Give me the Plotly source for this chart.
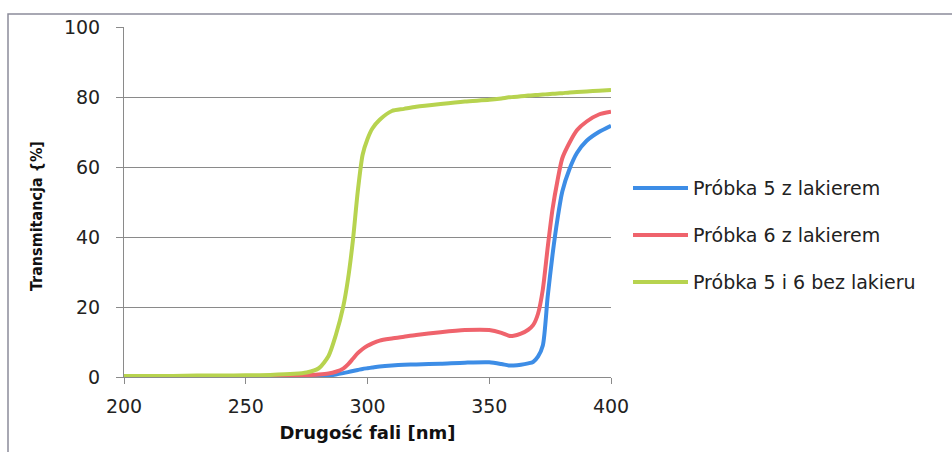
import plotly.graph_objects as go

# Wavelength grid [nm]
wavelength = [200, 210, 220, 230, 240, 250, 260, 270, 275, 280, 284, 287, 290, 292,
              294, 296, 298, 300, 302, 305, 310, 315, 320, 330, 340, 350, 355, 358,
              360, 363, 366, 368, 370, 372, 374, 376, 378, 380, 383, 386, 390, 395, 400]

# Transmittance [%]
probka5_lakier = [0.0, 0.0, 0.0, 0.0, 0.0, 0.0, 0.0, 0.1, 0.1, 0.2, 0.4, 0.7, 1.1, 1.4,
                  1.7, 2.0, 2.3, 2.5, 2.7, 3.0, 3.3, 3.5, 3.6, 3.8, 4.1, 4.2, 3.7, 3.3,
                  3.3, 3.5, 3.9, 4.3, 5.8, 9.0, 23.0, 35.0, 45.0, 53.0, 59.5, 64.0, 67.5, 70.0, 71.8]

probka6_lakier = [0.1, 0.1, 0.1, 0.1, 0.1, 0.2, 0.2, 0.3, 0.5, 0.7, 1.0, 1.5, 2.4, 3.6,
                  5.2, 6.8, 8.0, 8.9, 9.6, 10.4, 11.0, 11.5, 12.0, 12.8, 13.4, 13.4, 12.6, 11.8,
                  11.8, 12.4, 13.5, 14.8, 18.0, 25.0, 37.0, 48.0, 56.0, 62.5, 67.0, 70.5, 73.0, 75.0, 75.8]

probka56_bez = [0.3, 0.3, 0.3, 0.4, 0.4, 0.5, 0.6, 0.9, 1.3, 2.5, 6.0, 12.0, 20.0, 28.0,
                39.0, 53.0, 63.5, 68.0, 71.0, 73.5, 76.0, 76.6, 77.2, 78.0, 78.7, 79.2, 79.6, 79.9,
                80.0, 80.2, 80.4, 80.5, 80.6, 80.7, 80.8, 80.9, 81.0, 81.1, 81.3, 81.4, 81.6, 81.8, 82.0]

series_names = ["Próbka 5 z lakierem", "Próbka 6 z lakierem", "Próbka 5 i 6 bez lakieru"]
series_values = [probka5_lakier, probka6_lakier, probka56_bez]
series_colors = ["#3d8de6", "#ef636c", "#b7d34f"]

x_ticks = [200, 250, 300, 350, 400]
y_ticks = [0, 20, 40, 60, 80, 100]

W, H = 952, 452
L, R, T, B = 124, 341, 27, 75
plot_w, plot_h = W - L - R, H - T - B


def px_to_paper_x(px):
    return (px - L) / plot_w


def px_to_paper_y(py):
    return (H - B - py) / plot_h


fig = go.Figure()
for name, vals, col in zip(series_names, series_values, series_colors):
    fig.add_trace(go.Scatter(
        x=wavelength, y=vals, name=name, mode="lines",
        line=dict(color=col, width=4, shape="spline", smoothing=0.7),
        showlegend=False,
    ))

grid_col = "#8a8a8a"
fig.update_xaxes(
    range=[200, 400], tickvals=x_ticks, ticks="outside", ticklen=6, tickcolor=grid_col,
    showline=True, linecolor=grid_col, linewidth=1, showgrid=False, zeroline=False,
    tickfont=dict(family="DejaVu Sans", size=19, color="#222"),
    ticklabelstandoff=6,
    title=dict(text="<b>Drugość fali [nm]</b>", standoff=10,
               font=dict(family="DejaVu Sans", size=18, color="#111")),
)
fig.update_yaxes(
    range=[0, 100], tickvals=y_ticks, ticks="outside", ticklen=7, tickcolor=grid_col,
    showline=True, linecolor=grid_col, linewidth=1, showgrid=True, gridcolor=grid_col,
    gridwidth=1, zeroline=False,
    tickfont=dict(family="DejaVu Sans", size=19, color="#222"),
    ticklabelstandoff=12,
)

# y-axis title
annotations = [dict(
    text="<b>Transmitancja {%]</b>", textangle=-90, showarrow=False,
    xref="paper", yref="paper", x=px_to_paper_x(36), y=px_to_paper_y(216),
    xanchor="center", yanchor="middle",
    font=dict(family="Liberation Sans Narrow, DejaVu Sans Condensed, Liberation Sans", size=16, color="#111"),
)]

# legend drawn beside the plot area
shapes = []
legend_rows = [188, 235, 282]
for name, col, py in zip(series_names, series_colors, legend_rows):
    yp = px_to_paper_y(py)
    shapes.append(dict(type="line", xref="paper", yref="paper",
                       x0=px_to_paper_x(633), x1=px_to_paper_x(688), y0=yp, y1=yp,
                       line=dict(color=col, width=4)))
    annotations.append(dict(text=name, showarrow=False, xref="paper", yref="paper",
                            x=px_to_paper_x(691), y=yp, xanchor="left", yanchor="middle",
                            font=dict(family="DejaVu Sans", size=19, color="#222")))

# chart frame
shapes.append(dict(type="rect", xref="paper", yref="paper",
                   x0=px_to_paper_x(8), x1=px_to_paper_x(1100),
                   y0=px_to_paper_y(600), y1=px_to_paper_y(14),
                   line=dict(color="#8c8c9a", width=1.5), layer="below"))

fig.update_layout(
    width=W, height=H, margin=dict(l=L, r=R, t=T, b=B),
    paper_bgcolor="white", plot_bgcolor="white",
    annotations=annotations, shapes=shapes, showlegend=False,
)

fig.write_html("out.html")
